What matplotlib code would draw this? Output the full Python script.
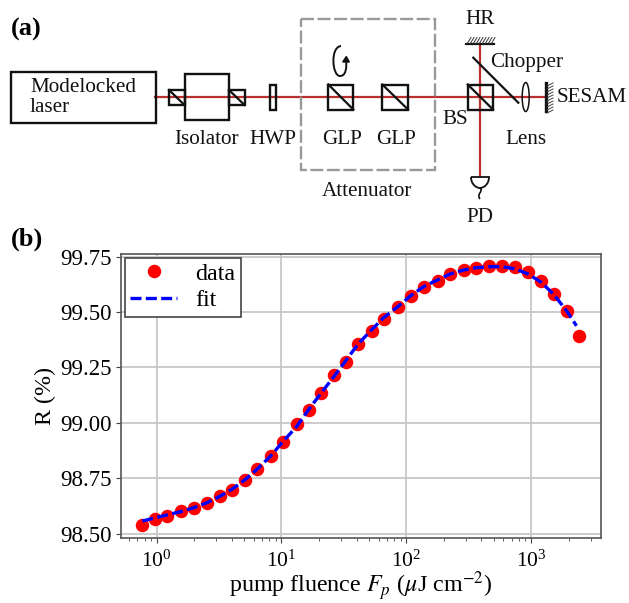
import matplotlib
matplotlib.use("Agg")
import matplotlib.pyplot as plt
from matplotlib.patches import Rectangle, Ellipse, PathPatch
from matplotlib.path import Path

plt.rcParams['font.family'] = ['Liberation Serif', 'DejaVu Serif']
plt.rcParams['mathtext.fontset'] = 'stix'
FS = 15.2
LABEL_FS = 17.3

fluence = [0.768, 0.975, 1.217, 1.566, 1.977, 2.529, 3.19, 4.0, 5.06, 6.35, 8.17, 10.25,
           13.3, 16.5, 20.8, 26.4, 32.7, 41.0, 52.8, 65.9, 85.8, 109, 138, 178, 225, 290,
           362, 460, 588, 743, 944, 1202, 1517, 1928, 2432]
reflectivity = [98.539, 98.565, 98.581, 98.602, 98.617, 98.639, 98.670, 98.697, 98.744,
                98.792, 98.851, 98.914, 98.994, 99.057, 99.137, 99.215, 99.276, 99.357,
                99.413, 99.468, 99.521, 99.572, 99.611, 99.640, 99.672, 99.688, 99.697,
                99.709, 99.709, 99.703, 99.681, 99.640, 99.581, 99.505, 99.390]
fit_fluence = [0.768, 0.975, 1.217, 1.566, 1.977, 2.529, 3.19, 4.0, 5.06, 6.35, 8.17, 10.25,
               13.3, 16.5, 20.8, 26.4, 32.7, 41.0, 52.8, 65.9, 85.8, 109, 138, 178, 225, 290,
               362, 460, 588, 743, 944, 1202, 1517, 1928, 2311]
fit_reflectivity = [98.557, 98.572, 98.585, 98.600, 98.617, 98.640, 98.668, 98.700, 98.742,
                    98.790, 98.850, 98.915, 98.985, 99.060, 99.135, 99.210, 99.280, 99.355,
                    99.420, 99.475, 99.525, 99.575, 99.615, 99.645, 99.672, 99.690, 99.700,
                    99.705, 99.705, 99.695, 99.672, 99.635, 99.580, 99.505, 99.438]
y_ticks = [98.50, 98.75, 99.00, 99.25, 99.50, 99.75]

W, H = 629, 603
fig = plt.figure(figsize=(W / 100, H / 100), dpi=100)

# ---------- panel (b) ----------
ax = fig.add_axes([120.7 / W, (H - 537.7) / H, 480 / W, 283.7 / H], zorder=2)
ax.set_xscale('log')
ax.set_xlim(0.515, 3612)
ax.set_ylim(98.482, 99.762)
ax.grid(True, which='major', color='#c8c8c8', lw=1.3)
ax.set_axisbelow(True)
ax.plot(fluence, reflectivity, 'o', color='#ff0000', ms=9.7, mew=0, label='data', zorder=3)
ax.plot(fit_fluence, fit_reflectivity, color='#0000ff', lw=2.4, ls=(0, (3.3, 1.3)), label='fit', zorder=4)
ax.set_yticks(y_ticks)
ax.set_yticklabels([f'{v:.2f}' for v in y_ticks])
ax.tick_params(axis='y', labelsize=16.5, color='#444444', pad=3)
ax.tick_params(axis='x', labelsize=15.5, color='#444444', pad=5.5)
ax.tick_params(which='minor', color='#444444')
for s in ax.spines.values():
    s.set_color('#555555')
    s.set_linewidth(1.2)
ax.set_xlabel(r'pump fluence $F_p$ ($\mu$J cm$^{-2}$)', fontsize=LABEL_FS, labelpad=-1.5)
ax.set_ylabel('R (%)', fontsize=LABEL_FS, labelpad=3)
leg = ax.legend(loc='upper left', bbox_to_anchor=(4.3 / 480, 1 - 3.7 / 283.7), borderaxespad=0,
                fontsize=LABEL_FS, fancybox=False, framealpha=1, edgecolor='#444444',
                handlelength=1.95, handletextpad=0.75, labelspacing=0.2,
                borderpad=0.22, markerscale=1)
leg.get_frame().set_linewidth(1.2)

# ---------- panel (a) schematic, in pixel coordinates ----------
sk = fig.add_axes([0, 0, 1, 1], zorder=1)
sk.set_xlim(0, W)
sk.set_ylim(H, 0)
sk.axis('off')
K = dict(fill=False, ec='#111111', lw=1.7, zorder=3)
BEAM = '#bb2f2f'
BEAM_Y = 97

sk.plot([155, 545], [BEAM_Y, BEAM_Y], color=BEAM, lw=1.6, zorder=2)
sk.plot([480, 480], [44, 177], color=BEAM, lw=1.6, zorder=2)


def box(x0, y0, x1, y1, diag=False):
    sk.add_patch(Rectangle((x0, y0), x1 - x0, y1 - y0, **K))
    if diag:
        sk.plot([x0, x1], [y0, y1], color='#111111', lw=1.6, zorder=3)


def label(x, y, s, ha='center', **kw):
    sk.text(x, y, s, ha=ha, va='center', fontsize=FS, color='#111111', **kw)


box(11, 71.5, 155.5, 122.5)
label(30, 87, 'Modelocked', ha='left')
label(30, 108, 'laser', ha='left')
box(184.5, 74, 229, 120)
box(169, 90, 184.5, 105, True)
box(229, 90, 244.5, 105, True)
box(270, 84.5, 275.5, 109.5)
box(328.3, 84.5, 353.3, 109.5, True)
box(382.3, 84.5, 408, 109.5, True)
box(467.7, 84.5, 493, 109.5, True)
sk.add_patch(Rectangle((301, 19), 134, 150.7, fill=False, ec='#999999', lw=1.7,
                       ls=(0, (5.5, 1.5)), zorder=2))

# rotation arrow
arrow = Path([(341, 46), (330, 47), (332, 76), (340, 76), (346, 76), (347, 68), (346, 58)],
             [Path.MOVETO, Path.CURVE4, Path.CURVE4, Path.CURVE4, Path.CURVE4, Path.CURVE4, Path.CURVE4])
sk.add_patch(PathPatch(arrow, fill=False, ec='#111111', lw=1.4, zorder=3))
sk.fill([342.7, 349.3, 346.3], [62, 62, 56.5], color='#111111', zorder=3)

# HR mirror
sk.plot([466, 494], [44, 44], color='#111111', lw=1.6, zorder=3)
for hx in range(467, 494, 3):
    sk.plot([hx, hx + 4], [44, 37.5], color='#333333', lw=0.7, zorder=3)

# chopper and lens
sk.plot([473.3, 518.3], [57.7, 102.7], color='#111111', lw=1.6, zorder=3)
sk.add_patch(Ellipse((525.7, BEAM_Y), 7, 29, fill=False, ec='#111111', lw=1.1, zorder=3))

# SESAM
sk.plot([546, 546], [83, 111], color='#111111', lw=2.4, zorder=3)
for hy in range(83, 111, 3):
    sk.plot([547, 553], [hy + 3, hy], color='#444444', lw=0.7, zorder=3)

# photodiode
pd = Path([(471, 177), (489, 177), (489, 184), (484, 188), (480, 188), (476, 188), (471, 184), (471, 177)],
          [Path.MOVETO, Path.LINETO, Path.CURVE4, Path.CURVE4, Path.CURVE4, Path.CURVE4, Path.CURVE4, Path.CURVE4])
sk.add_patch(PathPatch(pd, fc='white', ec='#111111', lw=1.3, zorder=3))
sq = Path([(480, 188), (484, 191), (476, 194), (480, 199)],
          [Path.MOVETO, Path.CURVE4, Path.CURVE4, Path.CURVE4])
sk.add_patch(PathPatch(sq, fill=False, ec='#111111', lw=1.2, zorder=3))

label(207, 140, 'Isolator')
label(273, 140, 'HWP')
label(342, 140, 'GLP')
label(396, 140, 'GLP')
label(367, 191, 'Attenuator')
label(480, 19, 'HR')
label(527, 63, 'Chopper')
label(557, 98, 'SESAM', ha='left')
label(455, 120, 'BS')
label(525.7, 140, 'Lens')
label(480, 218, 'PD')
sk.text(11, 29, '(a)', fontsize=18.9, fontweight='bold', va='center', color='black')
sk.text(11, 239, '(b)', fontsize=18.9, fontweight='bold', va='center', color='black')

fig.savefig('out.png', dpi=100)
